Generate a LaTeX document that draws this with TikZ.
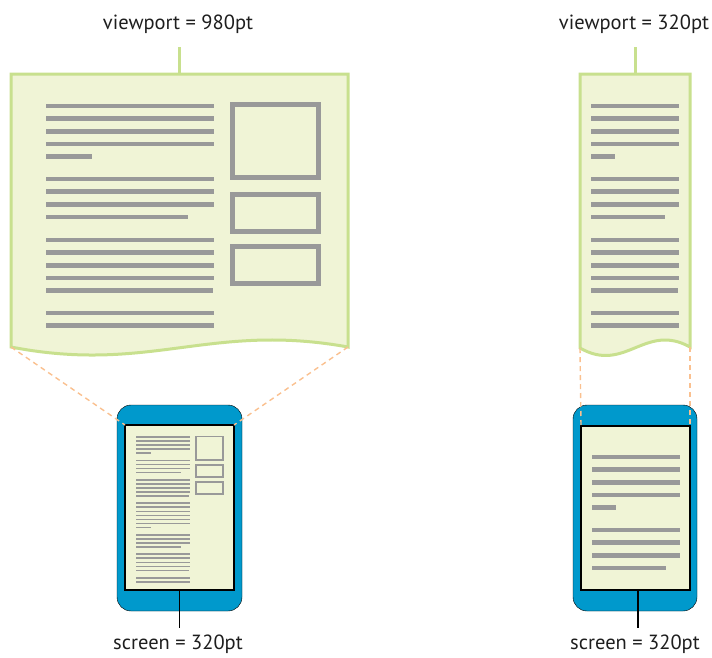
\documentclass[tikz,border=0pt]{standalone}
\usepackage{fontspec}
\setmainfont{PT Sans}
\definecolor{pagefill}{RGB}{240,244,214}
\definecolor{pageedge}{RGB}{200,224,142}
\definecolor{txtgray}{RGB}{153,153,153}
\definecolor{phoneblue}{RGB}{0,153,204}
\definecolor{dashorange}{RGB}{250,192,143}
\definecolor{labeltext}{RGB}{30,30,30}
\tikzset{
  pagebox/.style={fill=pagefill,draw=pageedge,line width=3pt,line join=miter},
  txtline/.style={draw=txtgray,line width=#1},
  imgbox/.style={draw=txtgray,line width=#1},
  phonebody/.style={fill=phoneblue,rounded corners=14pt},
  screenbox/.style={fill=pagefill,draw=black,line width=1.4pt},
  zoomline/.style={draw=dashorange,line width=1.4pt,dash pattern=on 5pt off 4pt},
  topstem/.style={draw=pageedge,line width=3pt},
  botstem/.style={draw=black,line width=1.3pt},
  lbl/.style={font=\fontsize{20.5}{24}\selectfont,text=labeltext,anchor=base,inner sep=0pt}
}
\newcommand\grpA[1]{%
  \foreach \yy in {106,118.6,131.2,143.8}{\draw[txtline=#1] (46,\yy) -- (214,\yy);}
  \draw[txtline=#1] (46,156.4) -- (92,156.4);}
\newcommand\grpB[1]{%
  \foreach \yy in {179,191.6,204.2}{\draw[txtline=#1] (46,\yy) -- (214,\yy);}
  \draw[txtline=#1] (46,216.8) -- (188,216.8);}
\newcommand\grpC[1]{%
  \foreach \yy in {240,252.6,265.2,277.8}{\draw[txtline=#1] (46,\yy) -- (214,\yy);}
  \draw[txtline=#1] (46,290.4) -- (213,290.4);}
\newcommand\grpD[1]{%
  \foreach \yy in {313,325.6}{\draw[txtline=#1] (46,\yy) -- (214,\yy);}}
\newcommand\imgboxes[1]{%
  \draw[imgbox=#1] (232.5,104.5) rectangle (318.5,177.5);
  \draw[imgbox=#1] (232.5,194.5) rectangle (318.5,231.5);
  \draw[imgbox=#1] (232.5,246.5) rectangle (318.5,283.5);}
\begin{document}
\begin{tikzpicture}[x=1pt,y=-1pt]
\useasboundingbox (0,0) rectangle (712,657);
% ---------- left: wide viewport ----------
\coordinate (LpTL) at (11,74);
\coordinate (LpTR) at (348,74);
\coordinate (LpBL) at (11,347);
\coordinate (LpBR) at (348,347);
\coordinate (LpTop) at (179,74);
\draw[pagebox] (LpBL) -- (LpTL) -- (LpTR) -- (LpBR)
  .. controls (210,322) and (150,374) .. (LpBL) -- cycle;
\grpA{4.6pt}\grpB{4.6pt}\grpC{4.6pt}\grpD{4.6pt}
\imgboxes{5pt}
\node[lbl] (Lview) at (178,29) {viewport = 980pt};
\coordinate (LviewS) at (179,47);
\draw[topstem] (LviewS) -- (LpTop);
% left phone
\draw[phonebody] (117,405) rectangle (242,611);
\coordinate (LsTL) at (125,425);
\coordinate (LsBR) at (234,590);
\coordinate (LsTR) at (234,425);
\coordinate (LsBot) at (179.5,590);
\draw[screenbox] (LsTL) rectangle (LsBR);
\begin{scope}[shift={(121.28,403.08)},scale=0.32]
  \grpA{1.7pt}\grpB{1.7pt}\grpC{1.7pt}\grpD{1.7pt}
  \imgboxes{1.7pt}
\end{scope}
\begin{scope}[shift={(121.28,477.48)},scale=0.32]
  \grpA{1.7pt}\grpB{1.7pt}\grpC{1.7pt}\grpD{1.7pt}
\end{scope}
\draw[zoomline] (LpBL) -- (LsTL);
\draw[zoomline] (LpBR) -- (LsTR);
\node[lbl] (Lscr) at (178,649) {screen = 320pt};
\coordinate (LscrS) at (179.5,628);
\draw[botstem] (LsBot) -- (LscrS);
% ---------- right: narrow viewport ----------
\coordinate (RpTL) at (580,74);
\coordinate (RpTR) at (690,74);
\coordinate (RpBL) at (580,348);
\coordinate (RpBR) at (690,347);
\coordinate (RpTop) at (635,74);
\draw[pagebox] (RpBL) -- (RpTL) -- (RpTR) -- (RpBR)
  .. controls (645,322) and (625,374) .. (RpBL) -- cycle;
\begin{scope}[shift={(566.9,0)},xscale=0.5238]
  \grpA{4.6pt}\grpB{4.6pt}\grpC{4.6pt}\grpD{4.6pt}
\end{scope}
\node[lbl] (Rview) at (634,29) {viewport = 320pt};
\coordinate (RviewS) at (635,47);
\draw[topstem] (RviewS) -- (RpTop);
% right phone
\draw[phonebody] (573,405) rectangle (697,611);
\coordinate (RsTL) at (581,426);
\coordinate (RsBR) at (690,590);
\coordinate (RsTR) at (690,426);
\coordinate (RsBot) at (638,590);
\draw[screenbox] (RsTL) rectangle (RsBR);
\begin{scope}[shift={(567.9,351)},xscale=0.5238]
  \grpA{4.6pt}\grpB{4.6pt}
\end{scope}
\draw[zoomline] (RpBL) -- (RsTL);
\draw[zoomline] (RpBR) -- (RsTR);
\node[lbl] (Rscr) at (635,649) {screen = 320pt};
\coordinate (RscrS) at (638,628);
\draw[botstem] (RsBot) -- (RscrS);
\end{tikzpicture}
\end{document}
